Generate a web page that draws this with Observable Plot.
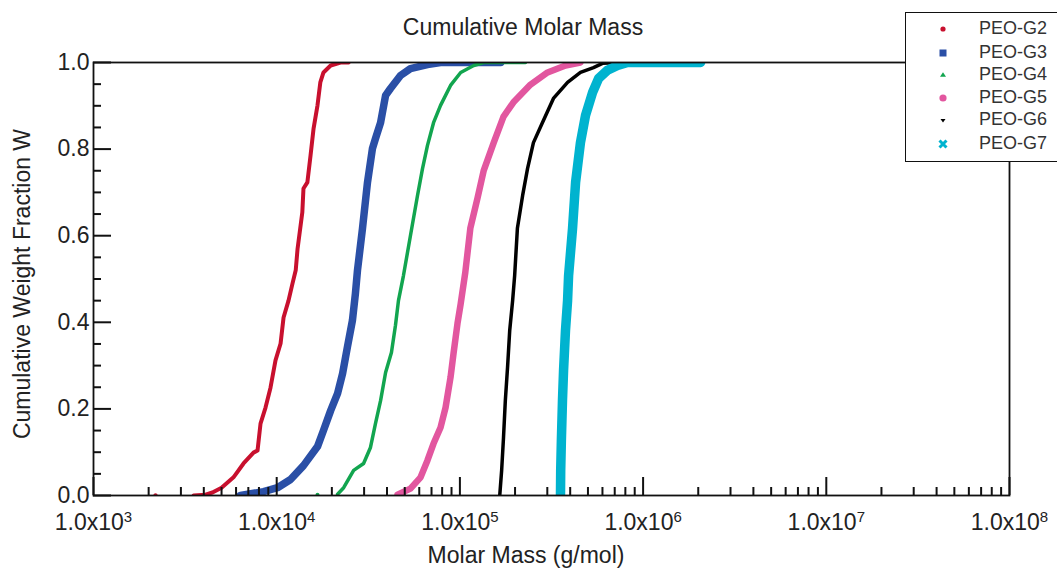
<!DOCTYPE html>
<html><head><meta charset="utf-8">
<script src="https://cdn.jsdelivr.net/npm/d3@7"></script>
<script src="https://cdn.jsdelivr.net/npm/@observablehq/plot@0.6"></script>
<style>
body{margin:0;background:#fff;font-family:"Liberation Sans",Arial,sans-serif;color:#222;}
#wrap{position:relative;width:1057px;height:569px;overflow:hidden;background:#fff;}
#chart{position:absolute;left:0;top:0;}
.title{position:absolute;font-size:23px;line-height:23px;white-space:nowrap;transform:translate(-50%,-50%);}
#ylab{transform:translate(-50%,-50%) rotate(-90deg);}
#legend{position:absolute;left:905px;top:12px;width:170px;height:150px;border:1.5px solid #111;background:#fff;box-sizing:border-box;}
.lrow{position:absolute;left:0;height:22px;width:170px;}
.lrow svg{position:absolute;left:28px;top:3px;}
.lrow span{position:absolute;left:73px;top:1px;font-size:18px;line-height:20px;color:#333;}
</style></head>
<body><div id="wrap">
<div id="chart"></div>
<div class="title" style="left:523px;top:27px">Cumulative Molar Mass</div>
<div class="title" style="left:526px;top:555px">Molar Mass (g/mol)</div>
<div class="title" id="ylab" style="left:22px;top:284px">Cumulative Weight Fraction W</div>
<div id="legend"></div>
</div>
<script>
// ---- data: [molar mass (g/mol), cumulative weight fraction] ----
const seriesNames = ["PEO-G2","PEO-G3","PEO-G4","PEO-G5","PEO-G6","PEO-G7"];
const seriesColors = ["#c8102e","#2a4fa6","#12a54f","#e2569f","#000000","#00b3cf"];
const seriesWidths = [4, 7.5, 3.5, 6.5, 3.5, 9.5];

const g2 = [[3520,0],[4090,0.002],[4460,0.007],[5000,0.018],[5810,0.042],[6590,0.074],[7470,0.099],[7860,0.104],[8160,0.166],[8690,0.203],[9250,0.249],[9850,0.312],[10500,0.351],[10900,0.411],[11600,0.450],[12200,0.490],[12700,0.520],[13000,0.570],[13800,0.654],[14000,0.709],[14700,0.723],[15300,0.785],[15900,0.848],[16700,0.901],[17300,0.954],[18000,0.977],[19700,0.993],[22300,1.0],[24700,1.0]];
const g2Stray = [[2180,0.0]];
const g3 = [[6340,0],[8470,0.009],[10100,0.018],[11900,0.037],[14000,0.069],[16700,0.113],[18000,0.150],[19700,0.196],[21500,0.236],[22900,0.282],[24300,0.342],[25900,0.404],[26900,0.467],[27600,0.520],[29400,0.617],[31300,0.723],[33300,0.801],[34600,0.824],[36900,0.861],[39300,0.924],[41800,0.940],[47400,0.970],[53700,0.986],[66500,0.995],[78400,1],[114000,1],[167000,1]];
const g4 = [[21500,0.003],[23200,0.018],[26300,0.058],[29800,0.074],[32500,0.111],[34600,0.166],[36900,0.219],[39300,0.284],[42300,0.330],[44500,0.393],[46200,0.450],[49200,0.508],[53700,0.600],[58700,0.693],[62500,0.755],[66500,0.808],[71800,0.861],[78400,0.901],[88900,0.947],[101000,0.977],[119000,0.993],[135000,1],[167000,1],[228000,1]];
const g4Stray = [[16700,0.002]];
const g5 = [[45700,0.002],[53700,0.016],[61000,0.042],[66500,0.081],[71800,0.120],[78400,0.157],[83500,0.203],[88900,0.273],[92300,0.328],[97000,0.397],[101000,0.443],[107000,0.515],[114000,0.617],[125000,0.688],[135000,0.751],[153000,0.815],[173000,0.875],[196000,0.908],[243000,0.949],[301000,0.977],[377000,0.993],[455000,1]];
const g6 = [[165000,0],[169000,0.058],[173000,0.134],[177000,0.219],[182000,0.296],[187000,0.381],[194000,0.450],[199000,0.508],[206000,0.617],[220000,0.693],[234000,0.755],[252000,0.815],[282000,0.861],[324000,0.917],[387000,0.954],[455000,0.977],[536000,0.988],[600000,0.998],[753000,1],[968000,1]];
const g7 = [[354000,0],[355000,0.058],[358000,0.127],[363000,0.219],[368000,0.289],[377000,0.381],[387000,0.450],[392000,0.508],[412000,0.617],[428000,0.723],[455000,0.815],[485000,0.878],[530000,0.931],[571000,0.963],[639000,0.982],[725000,0.993],[822000,1],[1245000,1],[2060000,1]];

const xTickValues = [1e3,1e4,1e5,1e6,1e7,1e8];
const xTickLabels = ["1.0x10^3","1.0x10^4","1.0x10^5","1.0x10^6","1.0x10^7","1.0x10^8"];
const yTickValues = [0,0.2,0.4,0.6,0.8,1.0];
const yTickLabels = ["0.0","0.2","0.4","0.6","0.8","1.0"];

// ---- build ----
const allSeries = [g2,g3,g4,g5,g6,g7];
const rows = allSeries.flatMap((s,i)=>s.map(([m,w])=>({name:seriesNames[i],m,w})));
const xMinor = xTickValues.slice(0,-1).flatMap(d=>d3.range(2,10).map(k=>k*d));
const yMinor = d3.range(1,20).map(i=>i*0.05).filter(v=>Math.abs(v*5-Math.round(v*5))>1e-6);
const xLab = new Map(xTickValues.map((v,i)=>[v,xTickLabels[i]]));
const yLab = new Map(yTickValues.map((v,i)=>[v,yTickLabels[i]]));

const lineMarks = seriesNames.map((n,i)=>Plot.line(rows.filter(r=>r.name===n),{x:"m",y:"w",stroke:seriesColors[i],strokeWidth:seriesWidths[i],strokeLinejoin:"round",strokeLinecap:"round",clip:true}));

const axisStroke = "#111";
const chart = Plot.plot({
  width:1057, height:569,
  marginLeft:93, marginRight:48, marginTop:62, marginBottom:74,
  x:{type:"log", domain:[1e3,1e8], label:null},
  y:{domain:[0,1], label:null},
  style:{fontFamily:'"Liberation Sans", Arial, sans-serif', fontSize:"23px", color:"#222", background:"transparent", overflow:"visible"},
  marks:[
    ...lineMarks,
    Plot.dot(g2Stray,{x:d=>d[0],y:d=>d[1],r:2.2,fill:seriesColors[0],clip:true}),
    Plot.dot(g4Stray,{x:d=>d[0],y:d=>d[1],r:2,fill:seriesColors[2],clip:true}),
    Plot.frame({stroke:axisStroke,strokeWidth:1.8}),
    Plot.axisX(xTickValues,{anchor:"bottom",tickSize:0,tickPadding:18,tickFormat:d=>xLab.get(d),label:null,fill:"#222"}),
    Plot.axisX(xTickValues,{anchor:"bottom",tickSize:18,dy:-18,tickFormat:()=>"",label:null,stroke:axisStroke,strokeWidth:2}),
    Plot.axisX(xMinor,{anchor:"bottom",tickSize:8,dy:-8,tickFormat:()=>"",label:null,stroke:axisStroke,strokeWidth:2}),
    Plot.axisY(yTickValues,{anchor:"left",tickSize:0,tickPadding:4,tickFormat:d=>yLab.get(d),label:null,fill:"#222"}),
    Plot.axisY(yTickValues,{anchor:"left",tickSize:18,dx:18,tickFormat:()=>"",label:null,stroke:axisStroke,strokeWidth:2}),
    Plot.axisY(yMinor,{anchor:"left",tickSize:8,dx:8,tickFormat:()=>"",label:null,stroke:axisStroke,strokeWidth:2})
  ]
});
document.getElementById("chart").appendChild(chart);

// superscripts in x tick labels
const ns = "http://www.w3.org/2000/svg";
chart.querySelectorAll("text").forEach(t=>{
  const s = t.textContent;
  if (!s.includes("^")) return;
  const [base, exp] = s.split("^");
  while (t.firstChild) t.removeChild(t.firstChild);
  const a = document.createElementNS(ns,"tspan"); a.textContent = base;
  const b = document.createElementNS(ns,"tspan"); b.textContent = exp;
  b.setAttribute("dy","-0.5em"); b.setAttribute("font-size","15px");
  t.appendChild(a); t.appendChild(b);
});

// legend
const legend = document.getElementById("legend");
const rowTops = [4,28,50,73,95,119];
const symbols = [
  c=>`<circle cx="9" cy="9" r="2.6" fill="${c}"/>`,
  c=>`<rect x="5.5" y="5.5" width="7" height="7" fill="${c}"/>`,
  c=>`<path d="M9,6.2 L12,10.8 L6,10.8 Z" fill="${c}"/>`,
  c=>`<circle cx="9" cy="9" r="3.6" fill="${c}"/>`,
  c=>`<path d="M6.5,8 L11.5,8 L9,11.5 Z" fill="${c}"/>`,
  c=>`<path d="M5.5,5.5 L12.5,12.5 M12.5,5.5 L5.5,12.5" stroke="${c}" stroke-width="3"/>`
];
seriesNames.forEach((n,i)=>{
  const d = document.createElement("div");
  d.className = "lrow"; d.style.top = rowTops[i]+"px";
  d.innerHTML = `<svg width="18" height="18">${symbols[i](seriesColors[i])}</svg><span>${n}</span>`;
  legend.appendChild(d);
});
</script>
</body></html>
